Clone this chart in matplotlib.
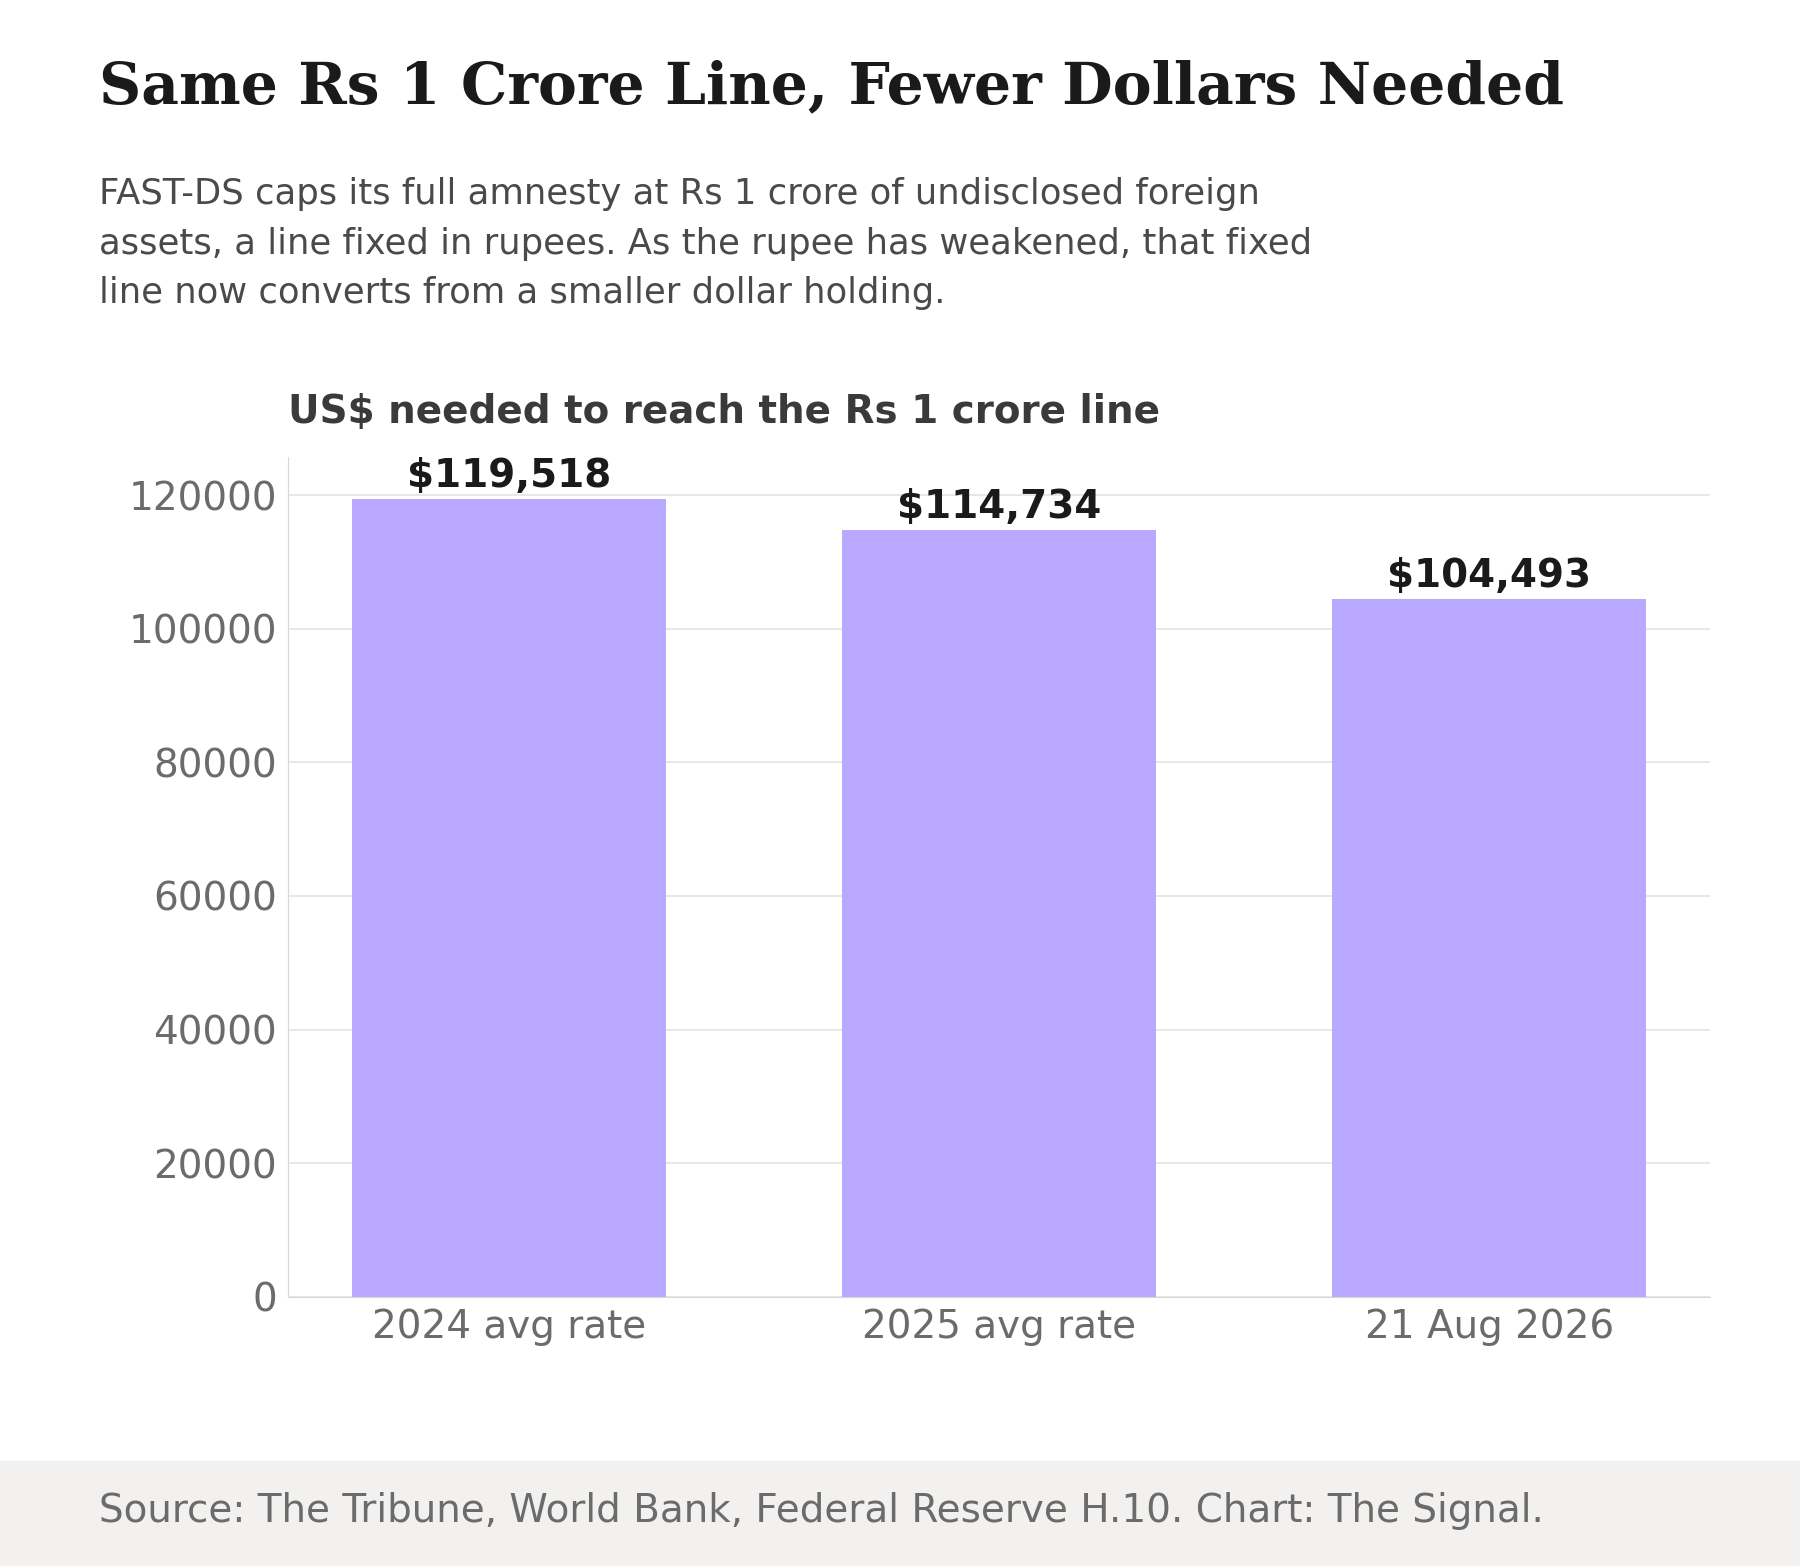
import matplotlib.pyplot as plt
from matplotlib.patches import Rectangle

categories = ["2024 avg rate", "2025 avg rate", "21 Aug 2026"]
usd_needed = [119518, 114734, 104493]
value_labels = ["$119,518", "$114,734", "$104,493"]

fig = plt.figure(figsize=(18, 15.66), dpi=100)
fig.patches.append(Rectangle((0, 0), 1, 0.067, transform=fig.transFigure,
                             color="#f2f1f0", zorder=0))

ax = fig.add_axes([0.160, 0.172, 0.790, 0.536])
ax.bar(range(3), usd_needed, width=0.64, color="#b8a8ff", zorder=2)
for i, (v, lab) in enumerate(zip(usd_needed, value_labels)):
    ax.text(i, v + 600, lab, ha="center", va="bottom", fontsize=28,
            fontweight="bold", color="#1a1a1a")

ax.set_xlim(-0.45, 2.45)
ax.set_ylim(0, 125700)
ax.set_yticks(range(0, 120001, 20000))
ax.set_xticks(range(3))
ax.set_xticklabels(categories)
ax.tick_params(axis="both", labelsize=28, labelcolor="#6b6b6b", length=0, pad=8)
ax.grid(axis="y", color="#e3e3e3", linewidth=1.2, zorder=0)
for s in ["top", "right"]:
    ax.spines[s].set_visible(False)
for s in ["left", "bottom"]:
    ax.spines[s].set_color("#d8d8d8")

fig.text(0.055, 0.944, "Same Rs 1 Crore Line, Fewer Dollars Needed", family="DejaVu Serif",
         fontsize=42, fontweight="bold", color="#1a1a1a", va="center")
fig.text(0.055, 0.887,
         "FAST-DS caps its full amnesty at Rs 1 crore of undisclosed foreign\n"
         "assets, a line fixed in rupees. As the rupee has weakened, that fixed\n"
         "line now converts from a smaller dollar holding.",
         fontsize=25.5, color="#4a4a4a", va="top", linespacing=1.58)
fig.text(0.160, 0.737, "US$ needed to reach the Rs 1 crore line", fontsize=28,
         fontweight="bold", color="#3a3a3a", va="center")
fig.text(0.055, 0.035, "Source: The Tribune, World Bank, Federal Reserve H.10. Chart: The Signal.",
         fontsize=28, color="#6b6b6b", va="center")

fig.savefig("out.png", dpi=100)
